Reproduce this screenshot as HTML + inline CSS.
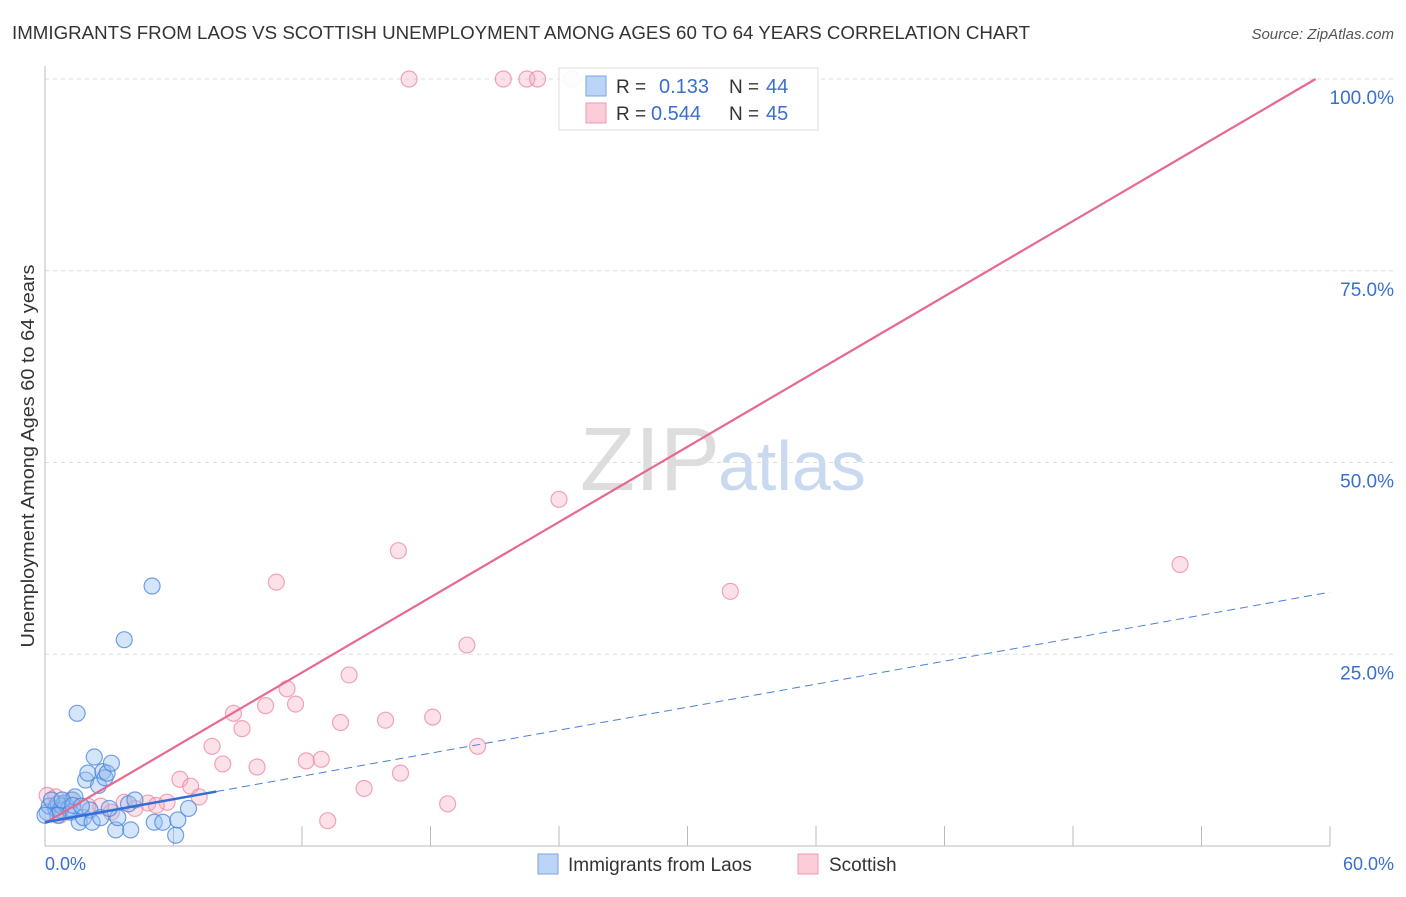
<!DOCTYPE html>
<html><head><meta charset="utf-8"><style>
body{margin:0;background:#fff;font-family:"Liberation Sans",sans-serif;}
svg text{font-family:"Liberation Sans",sans-serif;}
</style></head><body>
<svg id="chart" width="1406" height="892">
<text x="12" y="39" font-size="18" fill="#333" textLength="1018" lengthAdjust="spacingAndGlyphs">IMMIGRANTS FROM LAOS VS SCOTTISH UNEMPLOYMENT AMONG AGES 60 TO 64 YEARS CORRELATION CHART</text>
<text x="1394" y="39" font-size="15" fill="#555" font-style="italic" text-anchor="end">Source: ZipAtlas.com</text>
<text x="720" y="490" font-size="90" fill="#ddd" text-anchor="end" font-family="Liberation Serif">ZIP</text>
<text x="718" y="490" font-size="70" fill="#c9daf0">atlas</text>
<g id="grid"></g><g id="axes"></g><g id="pts"></g><g id="trend"></g>
<text transform="translate(34,456) rotate(-90)" font-size="18" fill="#333" text-anchor="middle" textLength="383" lengthAdjust="spacingAndGlyphs">Unemployment Among Ages 60 to 64 years</text>
<text x="45" y="870" font-size="18" fill="#3a6fd0">0.0%</text>
<text x="1394" y="870" font-size="18" fill="#3a6fd0" text-anchor="end">60.0%</text>
<g>
<rect x="559" y="68" width="259" height="62" fill="rgba(255,255,255,0.9)" stroke="#ddd"/>
<rect x="586" y="76" width="20" height="20" fill="#bcd4f6" stroke="#7aa6e6"/>
<rect x="586" y="103" width="20" height="20" fill="#fbcdd9" stroke="#ee9ab1"/>
<text x="616" y="93" font-size="19" fill="#333">R = </text><text x="659" y="93" font-size="20" fill="#3a6fd0">0.133</text>
<text x="729" y="93" font-size="19" fill="#333">N = </text><text x="766" y="93" font-size="20" fill="#3a6fd0">44</text>
<text x="616" y="120" font-size="19" fill="#333">R = </text><text x="651" y="120" font-size="20" fill="#3a6fd0">0.544</text>
<text x="729" y="120" font-size="19" fill="#333">N = </text><text x="766" y="120" font-size="20" fill="#3a6fd0">45</text>
</g>
<g>
<rect x="538" y="854" width="20" height="20" fill="#bcd4f6" stroke="#7aa6e6"/>
<text x="568" y="871" font-size="19" fill="#333">Immigrants from Laos</text>
<rect x="798" y="854" width="20" height="20" fill="#fbcdd9" stroke="#ee9ab1"/>
<text x="829" y="871" font-size="19" fill="#333">Scottish</text>
</g>
</svg>
<script>
const yTicks=[25,50,75,100];
const yTickLabels=["25.0%","50.0%","75.0%","100.0%"];
const blueX=[0.1,0.2,0.5,0.6,0.7,0.8,0.9,1.1,1.2,1.3,1.4,1.5,1.6,1.8,1.9,2.0,2.1,2.2,2.3,2.5,2.6,2.7,2.8,2.9,3.1,3.3,3.4,3.7,3.9,4.0,4.2,5.0,5.1,5.5,6.1,6.2,6.7,0.3,0.6,0.8,0.0,1.3,1.7,3.0];
const blueY=[4.4,5.2,4.9,5.5,4.7,5.2,5.6,4.9,4.4,6.0,6.4,17.3,3.1,3.7,8.6,9.5,4.7,3.1,11.6,7.9,3.7,9.7,8.9,9.5,10.8,2.1,3.7,26.9,5.5,2.1,6.0,33.9,3.1,3.1,1.4,3.4,4.9,6.0,4.0,6.0,4.0,5.3,5.2,4.9];
const pinkX=[17.0,21.4,22.5,23.0,24.6,24.0,16.5,10.8,32.0,53.0,19.7,14.2,11.3,11.7,10.3,8.8,9.2,13.8,15.9,18.1,20.2,7.8,8.3,9.9,12.2,12.9,6.3,6.8,7.2,16.6,14.9,18.8,13.2,5.7,4.8,5.2,4.2,3.7,3.1,2.6,2.0,1.2,0.5,0.1,0.7];
const pinkY=[100,100,100,100,100,45.2,38.5,34.4,33.2,36.7,26.2,22.3,20.5,18.5,18.3,17.3,15.3,16.1,16.4,16.8,13.0,13.0,10.7,10.3,11.1,11.3,8.7,7.8,6.4,9.5,7.5,5.5,3.3,5.7,5.6,5.3,4.9,5.7,4.4,5.2,5.2,6.0,6.4,6.6,4.0];
const blueTrend=[3.1,0.5,8.0];   // intercept, slope, solid-end x
const pinkTrend=[3.0,1.635];
const X0=45,X1=1330,Y0=846,Y100=79;
const sx=v=>X0+(X1-X0)*v/60, sy=v=>Y0-(Y0-Y100)*v/100;
const NS="http://www.w3.org/2000/svg";
function mk(tag,attrs,parent){const e=document.createElementNS(NS,tag);for(const k in attrs)e.setAttribute(k,attrs[k]);document.getElementById(parent).appendChild(e);return e;}
yTicks.forEach((t,i)=>{
 const l=mk('line',{x1:X0,x2:1394,y1:sy(t),y2:sy(t),stroke:'#ddd','stroke-dasharray':'4,4'},'grid');
 
 
 const tx=mk('text',{x:1394,y:sy(t)+25,'font-size':19,fill:'#3a6fd0','text-anchor':'end'},'grid');
 tx.textContent=yTickLabels[i];
 
 
});
let a=mk('line',{x1:X0,x2:X0,y1:66,y2:Y0,stroke:'#bbb'},'axes');


a=mk('line',{x1:X0,x2:X1,y1:Y0,y2:Y0,stroke:'#bbb'},'axes');


for(let i=1;i<=10;i++){const t=mk('line',{x1:sx(i*6),x2:sx(i*6),y1:Y0,y2:826,stroke:'#bbb'},'axes');
 
 }
pinkX.forEach((x,i)=>{const c=mk('circle',{cx:sx(x),cy:sy(pinkY[i]),r:8,fill:'rgba(246,170,192,0.35)',stroke:'rgba(232,130,160,0.7)','stroke-width':1.2},'pts');
 
 });
blueX.forEach((x,i)=>{const c=mk('circle',{cx:sx(x),cy:sy(blueY[i]),r:8,fill:'rgba(150,190,240,0.4)',stroke:'rgba(70,130,220,0.75)','stroke-width':1.2},'pts');
 
 });
const pxEnd=(100-pinkTrend[0])/pinkTrend[1];
let l=mk('line',{x1:sx(0),y1:sy(pinkTrend[0]),x2:sx(pxEnd),y2:sy(100),stroke:'#e8688f','stroke-width':2.2},'trend');


const bf=x=>blueTrend[0]+blueTrend[1]*x;
l=mk('line',{x1:sx(0),y1:sy(bf(0)),x2:sx(blueTrend[2]),y2:sy(bf(blueTrend[2])),stroke:'#2f6fd6','stroke-width':2.5},'trend');


l=mk('line',{x1:sx(blueTrend[2]),y1:sy(bf(blueTrend[2])),x2:sx(60),y2:sy(bf(60)),stroke:'#4a80d8','stroke-width':1,'stroke-dasharray':'8,5'},'trend');


</script>
</body></html>
